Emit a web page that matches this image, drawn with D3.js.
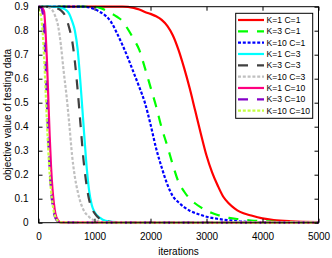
<!DOCTYPE html>
<html>
<head>
<meta charset="utf-8">
<script src="https://cdn.jsdelivr.net/npm/d3@7"></script>
<style>
  body { margin: 0; background: #fff; }
  svg { display: block; font-family: Arial, "Liberation Sans", sans-serif; }
  .tick text { font-size: 10px; fill: #000; }
</style>
</head>
<body>
<svg class="chart" width="332" height="258"></svg>
<script>
// values, one iteration list + one value list per run
const k1c1Iters = [0, 1500, 1700, 1800, 1900, 2000, 2100, 2200, 2300, 2400, 2500, 2600, 2700, 2800, 2900, 3000, 3100, 3200, 3300, 3400, 3500, 3600, 3800, 4000, 4200, 4500, 5000]
const k1c1Vals = [0.9, 0.9, 0.895, 0.888, 0.878, 0.87, 0.86, 0.845, 0.82, 0.78, 0.72, 0.645, 0.56, 0.465, 0.37, 0.28, 0.21, 0.155, 0.108, 0.08, 0.06, 0.045, 0.03, 0.018, 0.011, 0.006, 0.003]

const k3c1Iters = [0, 1000, 1100, 1200, 1300, 1400, 1500, 1600, 1700, 1800, 1900, 2000, 2100, 2200, 2300, 2400, 2500, 2600, 2700, 2800, 2900, 3000, 3100, 3200, 3400, 3600, 3800, 4000, 4500, 5000]
const k3c1Vals = [0.9, 0.9, 0.895, 0.885, 0.872, 0.858, 0.84, 0.805, 0.765, 0.72, 0.645, 0.565, 0.485, 0.395, 0.32, 0.24, 0.17, 0.13, 0.1, 0.08, 0.064, 0.05, 0.04, 0.032, 0.02, 0.014, 0.009, 0.006, 0.002, 0]

const k10c1Iters = [0, 800, 1000, 1100, 1200, 1300, 1400, 1500, 1600, 1700, 1800, 1900, 2000, 2100, 2200, 2300, 2400, 2500, 2600, 2700, 2800, 2900, 3000, 3200, 3400, 3600, 4000, 5000]
const k10c1Vals = [0.9, 0.9, 0.89, 0.878, 0.862, 0.835, 0.79, 0.74, 0.685, 0.625, 0.565, 0.5, 0.41, 0.31, 0.23, 0.16, 0.11, 0.085, 0.065, 0.05, 0.04, 0.032, 0.025, 0.016, 0.01, 0.005, 0.002, 0]

const k1c3Iters = [0, 300, 400, 500, 550, 600, 650, 700, 750, 800, 850, 900, 950, 1000, 1100, 1200, 1400, 5000]
const k1c3Vals = [0.9, 0.9, 0.895, 0.885, 0.87, 0.84, 0.8, 0.72, 0.58, 0.42, 0.26, 0.14, 0.075, 0.045, 0.02, 0.008, 0.002, 0]

const k3c3Iters = [0, 200, 300, 400, 500, 550, 600, 650, 700, 750, 800, 850, 900, 950, 1000, 1100, 1200, 1400, 5000]
const k3c3Vals = [0.9, 0.9, 0.895, 0.885, 0.85, 0.81, 0.76, 0.67, 0.55, 0.41, 0.27, 0.17, 0.1, 0.06, 0.04, 0.015, 0.006, 0.001, 0]

const k10c3Iters = [0, 100, 200, 300, 350, 400, 450, 500, 550, 600, 650, 700, 750, 800, 900, 1000, 1200, 5000]
const k10c3Vals = [0.9, 0.9, 0.895, 0.86, 0.82, 0.74, 0.63, 0.53, 0.41, 0.28, 0.19, 0.13, 0.085, 0.055, 0.025, 0.01, 0.002, 0]

const k1c10Iters = [0, 50, 100, 125, 150, 175, 200, 225, 250, 275, 300, 350, 400, 5000]
const k1c10Vals = [0.9, 0.898, 0.88, 0.8, 0.68, 0.52, 0.36, 0.23, 0.14, 0.08, 0.04, 0.01, 0.001, 0]

const k3c10Iters = [0, 50, 75, 100, 125, 150, 175, 200, 225, 250, 275, 300, 350, 400, 5000]
const k3c10Vals = [0.9, 0.895, 0.87, 0.8, 0.67, 0.5, 0.34, 0.22, 0.13, 0.075, 0.04, 0.02, 0.005, 0.001, 0]

const k10c10Iters = [0, 25, 50, 75, 100, 125, 150, 175, 200, 225, 250, 275, 300, 350, 400, 5000]
const k10c10Vals = [0.89, 0.88, 0.85, 0.79, 0.69, 0.56, 0.42, 0.3, 0.2, 0.13, 0.08, 0.045, 0.025, 0.007, 0.001, 0]

const seriesNames = ['K=1 C=1', 'K=3 C=1', 'K=10 C=1', 'K=1 C=3', 'K=3 C=3', 'K=10 C=3', 'K=1 C=10', 'K=3 C=10', 'K=10 C=10']
const seriesIters = [k1c1Iters, k3c1Iters, k10c1Iters, k1c3Iters, k3c3Iters, k10c3Iters, k1c10Iters, k3c10Iters, k10c10Iters]
const seriesVals = [k1c1Vals, k3c1Vals, k10c1Vals, k1c3Vals, k3c3Vals, k10c3Vals, k1c10Vals, k3c10Vals, k10c10Vals]
const seriesColors = ['#ff0000', '#00ff00', '#0000ff', '#00ffff', '#404040', '#c0c0c0', '#ff0080', '#8400c8', '#c4ff40']
const seriesStyles = ['solid', 'dash', 'dot', 'solid', 'dash', 'dot', 'solid', 'dash', 'dot']

const xTicks = [0, 1000, 2000, 3000, 4000, 5000]
const yTicks = [0, 0.1, 0.2, 0.3, 0.4, 0.5, 0.6, 0.7, 0.8, 0.9]

const dashFor = { solid: null, dash: '10,9', dot: '3,1.8' }

const plotLeft = 38.5
const plotRight = 318.5
const plotTop = 6.7
const plotBottom = 222.7

const xScale = d3.scaleLinear().domain([0, 5000]).range([plotLeft, plotRight])
const yScale = d3.scaleLinear().domain([0, 0.9]).range([plotBottom, plotTop])

const chart = d3.select('.chart')

const series = seriesNames.map((name, i) => ({
  name,
  color: seriesColors[i],
  dash: dashFor[seriesStyles[i]],
  points: seriesIters[i].map((it, j) => [it, seriesVals[i][j]])
}))

const line = d3.line()
  .x(d => xScale(d[0]))
  .y(d => yScale(d[1]))
  .curve(d3.curveMonotoneX)

chart.append('defs').append('clipPath').attr('id', 'plot')
  .append('rect')
  .attr('x', plotLeft).attr('y', plotTop - 2)
  .attr('width', plotRight - plotLeft).attr('height', plotBottom - plotTop + 4)

chart.append('g').attr('clip-path', 'url(#plot)')
  .selectAll('path')
  .data(series)
  .enter()
  .append('path')
  .attr('d', s => line(s.points))
  .attr('fill', 'none')
  .attr('stroke', s => s.color)
  .attr('stroke-width', 2.2)
  .attr('stroke-dasharray', s => s.dash)

// axes, MATLAB style box with inward ticks
const tickLen = 4
chart.append('g').attr('transform', `translate(0,${plotBottom})`)
  .call(d3.axisBottom(xScale).tickValues(xTicks).tickSizeInner(-tickLen).tickSizeOuter(0).tickPadding(10).tickFormat(d3.format('d')))
chart.append('g').attr('transform', `translate(0,${plotTop})`)
  .call(d3.axisTop(xScale).tickValues(xTicks).tickSizeInner(-tickLen).tickSizeOuter(0).tickFormat(''))
chart.append('g').attr('transform', `translate(${plotLeft},0)`)
  .call(d3.axisLeft(yScale).tickValues(yTicks).tickSizeInner(-tickLen).tickSizeOuter(0).tickPadding(10).tickFormat(d => d === 0 ? '0' : d3.format('.1f')(d)))
chart.append('g').attr('transform', `translate(${plotRight},0)`)
  .call(d3.axisRight(yScale).tickValues(yTicks).tickSizeInner(-tickLen).tickSizeOuter(0).tickFormat(''))

chart.selectAll('.domain').remove()
chart.selectAll('.tick line').attr('stroke', '#000')

chart.append('rect')
  .attr('x', plotLeft).attr('y', plotTop)
  .attr('width', plotRight - plotLeft).attr('height', plotBottom - plotTop)
  .attr('fill', 'none').attr('stroke', '#000').attr('stroke-width', 1)

chart.append('text')
  .attr('x', (plotLeft + plotRight) / 2).attr('y', 255)
  .attr('text-anchor', 'middle')
  .attr('font-size', 10)
  .text('iterations')

chart.append('text')
  .attr('transform', `translate(10.5,${(plotTop + plotBottom) / 2}) rotate(-90)`)
  .attr('text-anchor', 'middle')
  .attr('font-size', 10)
  .text('objective value of testing data')

// legend
const legend = chart.append('g').attr('class', 'legend')
legend.append('rect')
  .attr('x', 235.7).attr('y', 13.3)
  .attr('width', 77).attr('height', 105)
  .attr('fill', '#fff').attr('stroke', '#000').attr('stroke-width', 1)

const row = legend.selectAll('g.row')
  .data(series)
  .enter()
  .append('g')
  .attr('class', 'row')
  .attr('transform', (s, i) => `translate(238,${20 + i * 11.33})`)
row.append('line')
  .attr('x1', 0).attr('x2', 26)
  .attr('stroke', s => s.color)
  .attr('stroke-width', 2.2)
  .attr('stroke-dasharray', s => s.dash)
row.append('text')
  .attr('x', 28.5)
  .attr('dy', '0.35em')
  .attr('font-size', 8.6)
  .text(s => s.name)
</script>
</body>
</html>
